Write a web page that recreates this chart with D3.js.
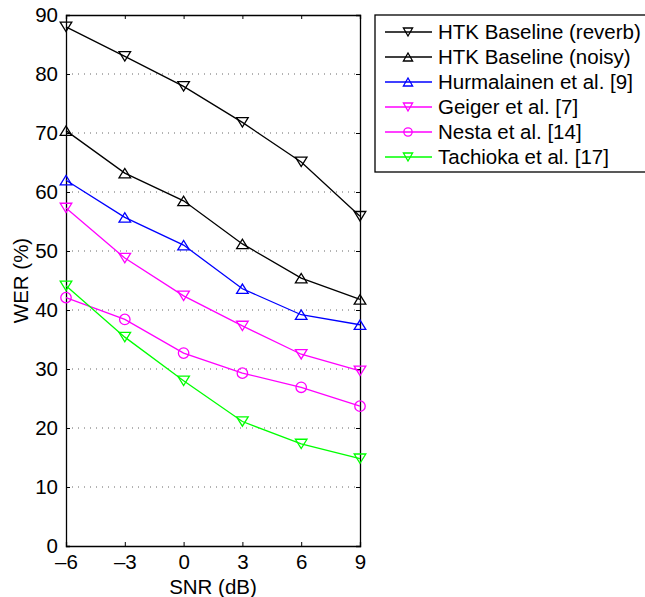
<!DOCTYPE html>
<html>
<head>
<meta charset="utf-8">
<script src="https://cdn.jsdelivr.net/npm/d3@7"></script>
<style>
  body { margin: 0; background: #fff; }
  svg { font-family: "Liberation Sans", Arial, Helvetica, sans-serif; }
</style>
</head>
<body>
<div id="chart"></div>
<script>
const snr = [-6, -3, 0, 3, 6, 9];
const yTicks = [0, 10, 20, 30, 40, 50, 60, 70, 80, 90];

const htkReverb = [88, 83, 77.9, 71.8, 65.1, 55.9];
const htkNoisy = [70.4, 63.2, 58.5, 51.2, 45.4, 41.8];
const hurmalainen = [62, 55.7, 51, 43.6, 39.2, 37.5];
const geiger = [57.3, 48.8, 42.4, 37.3, 32.5, 29.7];
const nesta = [42.1, 38.4, 32.7, 29.3, 26.9, 23.7];
const tachioka = [44.1, 35.4, 28, 21.1, 17.3, 14.8];

const series = [
    {name: 'HTK Baseline (reverb)', values: htkReverb, color: '#000000', marker: 'down'},
    {name: 'HTK Baseline (noisy)', values: htkNoisy, color: '#000000', marker: 'up'},
    {name: 'Hurmalainen et al. [9]', values: hurmalainen, color: '#0000ff', marker: 'up'},
    {name: 'Geiger et al. [7]', values: geiger, color: '#ff00ff', marker: 'down'},
    {name: 'Nesta et al. [14]', values: nesta, color: '#ff00ff', marker: 'circle'},
    {name: 'Tachioka et al. [17]', values: tachioka, color: '#00ff00', marker: 'down'}
];

const width = 645, height = 597;
const margin = {left: 66, right: 285, top: 15, bottom: 51};
const svg = d3.select('#chart').append('svg')
    .attr('width', width).attr('height', height);

const x = d3.scaleLinear().domain([-6, 9]).range([margin.left, width - margin.right]);
const y = d3.scaleLinear().domain([0, 90]).range([height - margin.bottom, margin.top]);

const fmt = d => (d < 0 ? '\u2013' + Math.abs(d) : '' + d);

// dotted grid
svg.append('g')
    .selectAll('line').data(yTicks.filter(d => d > 0 && d < 90)).join('line')
    .attr('x1', x(-6)).attr('x2', x(9))
    .attr('y1', d => y(d)).attr('y2', d => y(d))
    .attr('stroke', '#666').attr('stroke-width', 1)
    .attr('stroke-dasharray', '1,5');

// axes (ticks point inward)
const axisStyle = g => {
    g.selectAll('text').attr('font-size', 20.5).attr('fill', '#000');
    g.selectAll('line').attr('stroke', '#000');
    g.select('.domain').attr('stroke', '#000').attr('stroke-width', 1.3);
};
svg.append('g')
    .attr('transform', `translate(0,${y(0)})`)
    .call(d3.axisBottom(x).tickValues(snr).tickSize(-4).tickPadding(8).tickFormat(fmt))
    .call(axisStyle);
svg.append('g')
    .attr('transform', `translate(0,${y(90)})`)
    .call(d3.axisTop(x).tickValues(snr).tickSize(-4).tickFormat(''))
    .call(axisStyle);
svg.append('g')
    .attr('transform', `translate(${x(-6)},0)`)
    .call(d3.axisLeft(y).tickValues(yTicks).tickSize(-4).tickPadding(8))
    .call(axisStyle);
svg.append('g')
    .attr('transform', `translate(${x(9)},0)`)
    .call(d3.axisRight(y).tickValues(yTicks).tickSize(-4).tickFormat(''))
    .call(axisStyle);

// axis titles
svg.append('text')
    .attr('x', (x(-6) + x(9)) / 2).attr('y', 594)
    .attr('text-anchor', 'middle').attr('font-size', 20.5)
    .text('SNR (dB)');
svg.append('text')
    .attr('transform', `translate(28,${(y(0) + y(90)) / 2}) rotate(-90)`)
    .attr('text-anchor', 'middle').attr('font-size', 20.5)
    .text('WER (%)');

function drawMarker(g, type, cx, cy, w, h, color) {
    if (type === 'circle') {
        g.append('circle').attr('cx', cx).attr('cy', cy).attr('r', w * 0.9)
            .attr('fill', 'none').attr('stroke', color).attr('stroke-width', 1.3);
        return;
    }
    const pts = type === 'down'
        ? [[cx - w, cy - h], [cx + w, cy - h], [cx, cy + h]]
        : [[cx - w, cy + h], [cx + w, cy + h], [cx, cy - h]];
    g.append('polygon').attr('points', pts.map(p => p.join(',')).join(' '))
        .attr('fill', 'none').attr('stroke', color).attr('stroke-width', 1.3);
}

const line = d3.line().x((d, i) => x(snr[i])).y(d => y(d));
series.forEach(s => {
    const g = svg.append('g');
    g.append('path').attr('d', line(s.values))
        .attr('fill', 'none').attr('stroke', s.color).attr('stroke-width', 1.3);
    s.values.forEach((v, i) => drawMarker(g, s.marker, x(snr[i]), y(v), 5.8, 4.7, s.color));
});

// legend
const lg = svg.append('g');
lg.append('rect').attr('x', 375).attr('y', 15).attr('width', 280).attr('height', 157)
    .attr('fill', '#fff').attr('stroke', '#000').attr('stroke-width', 1.3);
series.forEach((s, i) => {
    const ly = 32 + i * 25;
    lg.append('line').attr('x1', 385).attr('x2', 432).attr('y1', ly).attr('y2', ly)
        .attr('stroke', s.color).attr('stroke-width', 1.3);
    drawMarker(lg, s.marker, 408, ly, 4.6, 4, s.color);
    lg.append('text').attr('x', 438).attr('y', ly + 7).attr('font-size', 20.5).text(s.name);
});
</script>
</body>
</html>
